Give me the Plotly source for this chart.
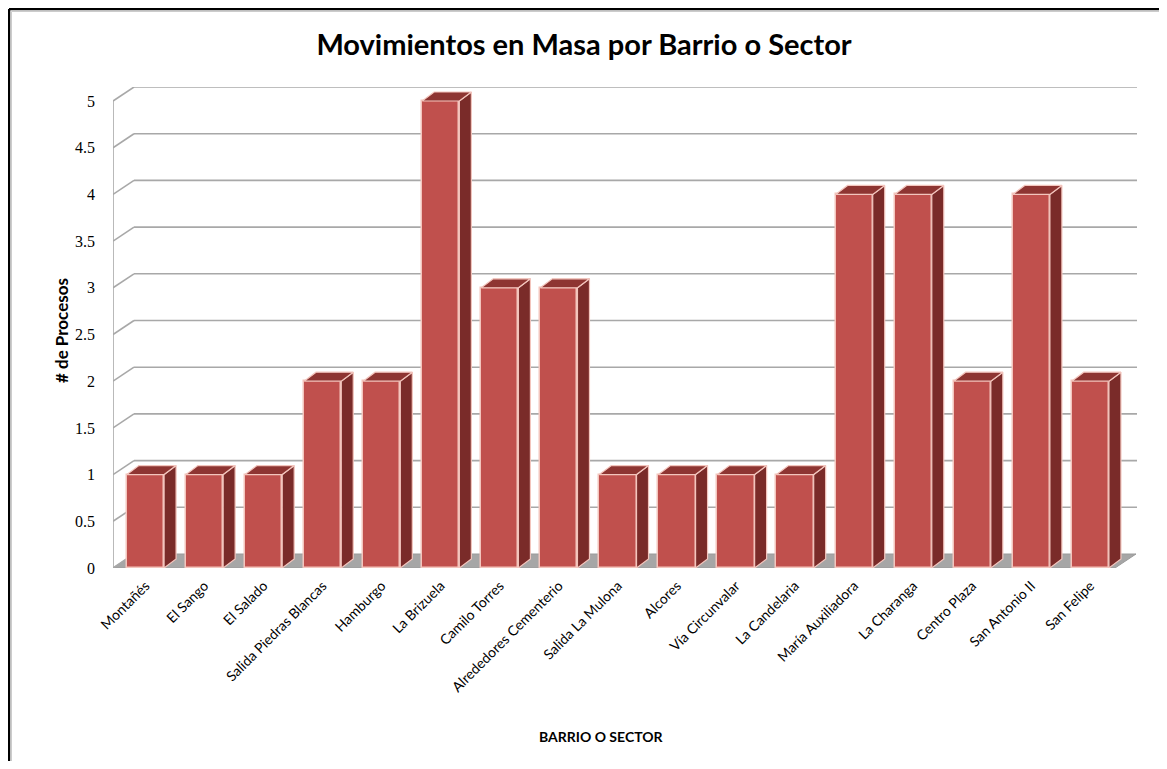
import plotly.graph_objects as go

# ---- data ----
barrios = ["Montañés", "El Sango", "El Salado", "Salida Piedras Blancas", "Hamburgo",
           "La Brizuela", "Camilo Torres", "Alrededores Cementerio", "Salida La Mulona",
           "Alcores", "Vía Circunvalar", "La Candelaria", "María Auxiliadora",
           "La Charanga", "Centro Plaza", "San Antonio II", "San Felipe"]
procesos = [1, 1, 1, 2, 2, 5, 3, 3, 1, 1, 1, 1, 4, 4, 2, 4, 2]
y_ticks = [0, 0.5, 1, 1.5, 2, 2.5, 3, 3.5, 4, 4.5, 5]
y_ticklabels = ["0", "0.5", "1", "1.5", "2", "2.5", "3", "3.5", "4", "4.5", "5"]

# ---- layout geometry ----
# the page body has an 8px default margin; the figure is sized to fit inside it
OFF = 8
W, H = 1167 - 2 * OFF, 769 - 2 * OFF
L, R, T, B = 113 - OFF, 1137 - OFF, 87 - OFF, 568 - OFF
X0, X1 = -0.55, 16.79
Y0, Y1 = 0.0, 5.15
ppx = (R - L) / (X1 - X0)
ppy = (B - T) / (Y1 - Y0)

wall_dx, wall_dy = 21 / ppx, 14 / ppy
bar_dx, bar_dy = 12 / ppx, 9 / ppy
bw = 0.63
floor_right = (1115 - OFF - L) / ppx + X0

FRONT = "#c0504d"
SIDE = "#7a2b29"
TOP = "#8e3532"
EDGE = "#f3c5bd"
GRID = "#a8a8a8"
FLOOR = "#a6a6a6"

fig = go.Figure()

# floor (below everything)
fig.add_shape(type="path", xref="x", yref="y", layer="below",
              path=f"M {X0},0 L {floor_right},0 L {floor_right + wall_dx},{wall_dy} "
                   f"L {X0 + wall_dx},{wall_dy} Z",
              fillcolor=FLOOR, line=dict(color="#9a9a9a", width=1))

# back-wall gridlines, side-wall diagonals and front axis line
for v in y_ticks[1:]:
    fig.add_shape(type="line", xref="x", yref="y", layer="below",
                  x0=X0 + wall_dx, x1=X1, y0=v + wall_dy, y1=v + wall_dy,
                  line=dict(color=GRID, width=1.6))
for v in y_ticks:
    fig.add_shape(type="line", xref="x", yref="y", layer="below",
                  x0=X0, x1=X0 + wall_dx, y0=v, y1=v + wall_dy,
                  line=dict(color=GRID, width=1.6))
fig.add_shape(type="line", xref="x", yref="y", layer="below",
              x0=X0, x1=X0, y0=0, y1=y_ticks[-1],
              line=dict(color=GRID, width=1.6))

# front faces
fig.add_trace(go.Bar(
    x=list(range(len(barrios))), y=procesos, width=bw,
    marker=dict(color=FRONT, line=dict(color=EDGE, width=1.5)),
    showlegend=False))

# side and top faces of bars
for i, v in enumerate(procesos):
    xr = i + bw / 2
    xl = i - bw / 2
    fig.add_trace(go.Scatter(
        x=[xr, xr + bar_dx, xr + bar_dx, xr, xr],
        y=[0, bar_dy, v + bar_dy, v, 0],
        fill="toself", fillcolor=SIDE, mode="lines",
        line=dict(color=EDGE, width=1.2), hoverinfo="skip", showlegend=False))
    fig.add_trace(go.Scatter(
        x=[xl, xr, xr + bar_dx, xl + bar_dx, xl],
        y=[v, v, v + bar_dy, v + bar_dy, v],
        fill="toself", fillcolor=TOP, mode="lines",
        line=dict(color=EDGE, width=1.2), hoverinfo="skip", showlegend=False))


def rx(px):
    """reference-page x pixel -> paper coordinate"""
    return (px - OFF - L) / (R - L)


def ry(py):
    """reference-page y pixel -> paper coordinate"""
    return (B - (py - OFF)) / (B - T)


# outer border (left and top)
fig.add_shape(type="line", xref="paper", yref="paper",
              x0=rx(9), x1=rx(9), y0=ry(9), y1=ry(790),
              line=dict(color="black", width=2.5))
fig.add_shape(type="line", xref="paper", yref="paper",
              x0=rx(9), x1=rx(1190), y0=ry(9), y1=ry(9),
              line=dict(color="black", width=2.5))
fig.add_shape(type="line", xref="paper", yref="paper",
              x0=rx(11.5), x1=rx(11.5), y0=ry(11.5), y1=ry(790),
              line=dict(color="#cccccc", width=1))
fig.add_shape(type="line", xref="paper", yref="paper",
              x0=rx(11.5), x1=rx(1190), y0=ry(11.5), y1=ry(11.5),
              line=dict(color="#cccccc", width=1))

fig.add_annotation(text="# de Procesos", xref="paper", yref="paper",
                   x=rx(61), y=ry(331), xanchor="center", yanchor="middle",
                   textangle=-90, showarrow=False,
                   font=dict(family="Lato", size=17, color="black", weight="bold"))
fig.add_annotation(text="BARRIO O SECTOR", xref="paper", yref="paper",
                   x=rx(601), y=ry(736), xanchor="center", yanchor="middle",
                   showarrow=False,
                   font=dict(family="Lato", size=14, color="black", weight="bold"))

fig.update_layout(
    width=W, height=H,
    margin=dict(l=L, r=W - R, t=T, b=H - B),
    paper_bgcolor="white", plot_bgcolor="white",
    title=dict(text="Movimientos en Masa por Barrio o Sector",
               x=(584 - OFF) / W, xanchor="center", y=1 - (45 - OFF) / H, yanchor="middle",
               font=dict(family="Lato", size=29, color="black", weight="bold")),
    xaxis=dict(range=[X0, X1], tickmode="array", tickvals=list(range(len(barrios))),
               ticktext=barrios, tickangle=-45, showgrid=False, zeroline=False,
               showline=False, ticks="", ticklabelstandoff=6,
               tickfont=dict(family="Lato", size=14, color="black")),
    yaxis=dict(range=[Y0, Y1], tickmode="array", tickvals=y_ticks,
               ticktext=y_ticklabels, showgrid=False, zeroline=False,
               showline=False, ticks="", ticklabelstandoff=17,
               tickfont=dict(family="Liberation Serif", size=16, color="black")),
    bargap=0,
)

fig.write_html("out.html")
